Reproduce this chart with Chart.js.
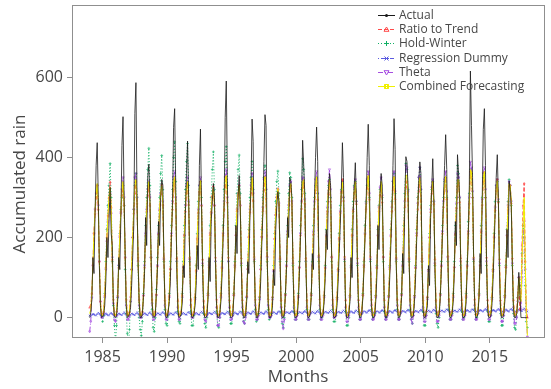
<!DOCTYPE html>
<html>
<head>
<meta charset="utf-8">
<title>Accumulated rain</title>
<script src="https://cdn.jsdelivr.net/npm/chart.js@4/dist/chart.umd.min.js"></script>
<style>
	body { margin: 0; background: #fff; }
	canvas { display: block; }
</style>
</head>
<body>
<canvas id="rain" width="551" height="389"></canvas>
<script>
// Monthly series, Jan 1984 .. Dec 2017, one row per year
const startYear = 1984;
const yearTicks = [1985, 1990, 1995, 2000, 2005, 2010, 2015];
const rainTicks = [0, 200, 400, 600];

const actual = [
	0, 12, 45, 150, 110, 260, 380, 437, 300, 130, 30, 0,
	2, 8, 30, 90, 200, 150, 240, 325, 210, 180, 40, 3,
	0, 5, 40, 150, 120, 250, 430, 502, 300, 160, 30, 0,
	3, 10, 25, 80, 150, 230, 510, 587, 300, 140, 40, 0,
	0, 10, 50, 110, 250, 180, 350, 383, 300, 170, 40, 2,
	0, 5, 60, 120, 240, 180, 300, 345, 330, 150, 30, 0,
	0, 15, 40, 90, 200, 280, 475, 522, 330, 120, 20, 0,
	2, 8, 35, 130, 100, 260, 360, 441, 300, 150, 25, 0,
	0, 10, 30, 80, 180, 120, 380, 471, 280, 120, 20, 0,
	0, 5, 45, 150, 90, 240, 290, 335, 300, 140, 30, 0,
	0, 10, 40, 100, 190, 280, 500, 591, 350, 150, 20, 0,
	0, 5, 50, 120, 230, 160, 300, 355, 280, 130, 25, 0,
	0, 8, 40, 140, 110, 250, 330, 496, 440, 150, 30, 0,
	0, 12, 35, 90, 180, 260, 390, 507, 480, 160, 35, 0,
	0, 5, 30, 120, 80, 220, 280, 315, 290, 150, 30, 0,
	0, 10, 60, 120, 250, 200, 350, 340, 300, 130, 20, 0,
	0, 5, 40, 110, 200, 300, 443, 380, 310, 140, 25, 0,
	0, 10, 50, 160, 120, 300, 400, 476, 390, 160, 30, 0,
	0, 8, 40, 100, 220, 170, 320, 360, 330, 150, 30, 0,
	0, 5, 30, 90, 160, 230, 320, 437, 350, 150, 20, 0,
	0, 10, 40, 150, 100, 260, 330, 387, 300, 120, 25, 0,
	0, 12, 50, 120, 200, 280, 400, 483, 380, 150, 30, 0,
	0, 5, 40, 100, 230, 170, 310, 360, 330, 160, 20, 0,
	0, 10, 40, 100, 180, 260, 380, 497, 420, 140, 30, 0,
	0, 10, 50, 160, 110, 290, 402, 390, 330, 150, 30, 0,
	0, 5, 40, 100, 190, 270, 340, 389, 360, 140, 20, 0,
	0, 15, 30, 130, 80, 250, 320, 397, 300, 120, 25, 0,
	0, 10, 50, 120, 210, 300, 380, 457, 370, 160, 30, 0,
	0, 10, 40, 110, 240, 180, 407, 360, 300, 130, 25, 0,
	0, 5, 40, 120, 200, 330, 616, 480, 350, 150, 30, 0,
	0, 10, 50, 160, 110, 300, 470, 522, 380, 140, 25, 0,
	0, 5, 30, 90, 170, 260, 350, 407, 300, 120, 20, 0,
	0, 10, 40, 110, 220, 150, 341, 320, 280, 130, 25, 0,
	0, 10, 40, 113, 60, 0, 0, 0, 0, 0, 0, 0,
];

const ratioToTrend = [
	25, 30, 60, 130, 210, 260, 300, 330, 270, 140, 40, 10,
	8, 15, 55, 125, 200, 255, 300, 339, 275, 145, 45, 8,
	6, 15, 55, 125, 205, 265, 305, 330, 280, 150, 45, 8,
	6, 14, 52, 120, 200, 260, 310, 340, 285, 150, 45, 8,
	7, 15, 55, 125, 205, 265, 305, 330, 280, 150, 45, 8,
	6, 15, 58, 128, 208, 268, 308, 332, 282, 150, 44, 7,
	7, 16, 55, 122, 205, 270, 320, 345, 285, 148, 42, 7,
	6, 15, 55, 125, 205, 265, 310, 335, 282, 150, 45, 8,
	6, 14, 50, 118, 198, 262, 315, 340, 280, 145, 42, 7,
	7, 15, 56, 126, 206, 264, 304, 328, 280, 150, 45, 8,
	6, 15, 55, 124, 205, 270, 325, 350, 288, 150, 43, 7,
	7, 16, 57, 127, 206, 266, 306, 330, 280, 148, 44, 8,
	6, 15, 54, 122, 202, 264, 312, 345, 292, 152, 45, 8,
	6, 15, 53, 121, 203, 266, 318, 350, 298, 154, 46, 8,
	6, 14, 52, 120, 198, 258, 300, 322, 280, 150, 44, 7,
	7, 16, 58, 128, 208, 270, 315, 330, 282, 148, 42, 7,
	6, 15, 55, 125, 206, 272, 325, 338, 285, 148, 43, 7,
	7, 16, 57, 127, 208, 272, 318, 348, 295, 155, 46, 8,
	6, 15, 55, 123, 203, 265, 308, 335, 290, 152, 45, 8,
	6, 14, 52, 120, 200, 262, 312, 345, 292, 152, 44, 7,
	7, 15, 55, 125, 205, 266, 310, 336, 284, 148, 44, 8,
	7, 16, 57, 127, 208, 272, 322, 352, 295, 152, 45, 8,
	6, 15, 55, 124, 205, 266, 306, 332, 288, 152, 44, 7,
	6, 15, 54, 122, 203, 266, 318, 350, 296, 150, 45, 8,
	7, 16, 58, 128, 208, 276, 326, 340, 292, 150, 45, 8,
	6, 15, 55, 124, 205, 270, 315, 340, 292, 148, 43, 7,
	7, 16, 52, 120, 200, 264, 310, 338, 284, 146, 43, 7,
	7, 16, 58, 128, 210, 276, 320, 350, 296, 154, 46, 8,
	7, 15, 55, 126, 207, 274, 328, 338, 288, 148, 44, 8,
	6, 15, 55, 128, 210, 285, 365, 360, 300, 150, 45, 8,
	7, 16, 58, 130, 212, 282, 340, 362, 300, 150, 44, 8,
	6, 14, 52, 120, 200, 268, 318, 345, 288, 146, 43, 7,
	7, 15, 55, 126, 205, 270, 330, 330, 286, 148, 44, 8,
	8, 15, 50, 100, 20, 60, 180, 280, 335, 140, 20, 0,
];

const holtWinter = [
	null, null, null, null, null, null, null, null, null, null, null, null,
	-10, 5, 60, 140, 220, 280, 330, 385, 300, 140, 30, -20,
	-60, -20, 50, 130, 210, 270, 300, 330, 280, 120, 10, -40,
	-70, -30, 40, 120, 200, 270, 330, 360, 300, 130, 0, -30,
	-45, -10, 60, 140, 230, 300, 370, 423, 330, 150, 20, -25,
	-35, 0, 70, 150, 230, 300, 360, 405, 320, 140, 20, -15,
	-20, 5, 60, 140, 230, 320, 400, 439, 340, 140, 15, -10,
	-15, 10, 60, 140, 230, 320, 390, 435, 330, 140, 15, -20,
	-20, 5, 50, 130, 210, 290, 330, 340, 300, 130, 10, -15,
	-25, 0, 60, 140, 230, 300, 370, 414, 320, 140, 15, -20,
	-25, 0, 60, 140, 230, 320, 390, 427, 330, 140, 15, -15,
	-15, 5, 60, 140, 230, 310, 370, 406, 310, 130, 15, -10,
	-15, 5, 50, 130, 220, 300, 350, 390, 320, 140, 20, -10,
	-5, 10, 50, 130, 220, 300, 350, 380, 320, 140, 20, -5,
	0, 10, 50, 130, 210, 290, 340, 366, 310, 140, 15, -15,
	-25, 0, 60, 140, 230, 310, 362, 350, 300, 130, 15, -5,
	-5, 10, 60, 140, 230, 320, 397, 370, 310, 140, 20, -5,
	-5, 10, 60, 140, 230, 300, 330, 350, 310, 140, 20, -5,
	0, 10, 55, 130, 220, 290, 330, 345, 300, 140, 20, -10,
	-10, 5, 50, 120, 210, 280, 320, 340, 300, 140, 15, -20,
	-20, 0, 55, 130, 220, 290, 330, 340, 290, 130, 15, -5,
	-5, 10, 60, 140, 230, 290, 330, 340, 300, 140, 20, -5,
	0, 10, 55, 130, 220, 280, 320, 330, 300, 140, 15, -5,
	0, 10, 55, 130, 220, 290, 340, 360, 310, 140, 20, -5,
	-5, 10, 60, 140, 230, 310, 385, 370, 320, 140, 20, -5,
	-15, 5, 55, 130, 220, 300, 350, 375, 320, 140, 15, -20,
	-20, 5, 50, 120, 210, 280, 320, 340, 290, 130, 10, -15,
	-25, 0, 60, 140, 230, 300, 340, 350, 300, 140, 20, -5,
	-5, 10, 60, 140, 230, 300, 380, 360, 300, 130, 15, -5,
	0, 10, 60, 140, 240, 310, 370, 360, 300, 140, 20, -5,
	0, 10, 60, 140, 230, 300, 350, 360, 300, 130, 15, -10,
	-10, 5, 50, 120, 210, 290, 330, 340, 290, 130, 10, -20,
	-20, 5, 55, 130, 220, 290, 345, 330, 280, 130, 10, -25,
	-30, 0, 50, 100, 60, 80, 160, 230, 200, 80, -10, -25,
];

const regressionDummy = [
	5, 3, 6, 9, 8, 6, 5, 9, 12, 10, 6, 4,
	6, 4, 7, 10, 8, 6, 5, 10, 12, 9, 6, 4,
	6, 4, 7, 10, 9, 7, 6, 10, 13, 10, 7, 5,
	6, 4, 7, 10, 9, 7, 6, 10, 13, 10, 7, 5,
	7, 5, 8, 11, 9, 7, 6, 11, 13, 10, 7, 5,
	7, 5, 8, 11, 10, 8, 7, 11, 14, 11, 8, 6,
	7, 5, 8, 11, 10, 8, 7, 11, 14, 11, 8, 6,
	8, 6, 9, 12, 10, 8, 7, 12, 14, 11, 8, 6,
	8, 6, 9, 12, 10, 8, 7, 12, 15, 12, 8, 6,
	8, 6, 9, 12, 11, 9, 8, 12, 15, 12, 9, 7,
	8, 6, 9, 12, 11, 9, 8, 12, 15, 12, 9, 7,
	9, 7, 10, 13, 11, 9, 8, 13, 15, 12, 9, 7,
	9, 7, 10, 13, 12, 10, 9, 13, 16, 13, 10, 8,
	9, 7, 10, 13, 12, 10, 9, 13, 16, 13, 10, 8,
	10, 8, 11, 14, 12, 10, 9, 14, 16, 13, 10, 8,
	10, 8, 11, 14, 13, 11, 10, 14, 17, 14, 11, 9,
	10, 8, 11, 14, 13, 11, 10, 14, 17, 14, 11, 9,
	11, 9, 12, 15, 13, 11, 10, 15, 17, 14, 11, 9,
	11, 9, 12, 15, 14, 12, 11, 15, 18, 15, 12, 10,
	11, 9, 12, 15, 14, 12, 11, 15, 18, 15, 12, 10,
	12, 10, 13, 16, 14, 12, 11, 16, 18, 15, 12, 10,
	12, 10, 13, 16, 15, 13, 12, 16, 19, 16, 13, 11,
	12, 10, 13, 16, 15, 13, 12, 16, 19, 16, 13, 11,
	13, 11, 14, 17, 15, 13, 12, 17, 19, 16, 13, 11,
	13, 11, 14, 17, 16, 14, 13, 17, 20, 17, 14, 12,
	13, 11, 14, 17, 16, 14, 13, 17, 20, 17, 14, 12,
	14, 12, 15, 18, 16, 14, 13, 18, 20, 17, 14, 12,
	14, 12, 15, 18, 17, 15, 14, 18, 21, 18, 15, 13,
	14, 12, 15, 18, 17, 15, 14, 18, 21, 18, 15, 13,
	15, 13, 16, 19, 17, 15, 14, 19, 21, 18, 15, 13,
	15, 13, 16, 19, 18, 16, 15, 19, 22, 19, 16, 14,
	15, 13, 16, 19, 18, 16, 15, 19, 22, 19, 16, 14,
	16, 14, 17, 20, 18, 16, 15, 20, 22, 19, 16, 14,
	16, 14, 17, 20, 19, 17, 16, 20, 23, 20, 17, 15,
];

const theta = [
	-35, -10, 50, 130, 210, 270, 310, 330, 280, 140, 40, 0,
	0, 10, 50, 120, 190, 240, 280, 310, 260, 150, 35, -5,
	-10, 5, 50, 130, 200, 260, 320, 350, 300, 150, 30, -5,
	-5, 5, 40, 120, 200, 270, 350, 360, 300, 140, 30, 0,
	0, 10, 55, 130, 210, 270, 320, 340, 300, 150, 35, -5,
	-5, 5, 55, 130, 210, 270, 310, 330, 290, 145, 30, -5,
	-5, 10, 50, 120, 210, 290, 350, 365, 300, 140, 25, -5,
	-5, 10, 50, 125, 205, 280, 330, 350, 290, 145, 30, 0,
	0, 10, 45, 115, 195, 270, 330, 350, 280, 135, 25, -5,
	-10, 5, 55, 130, 210, 260, 300, 320, 280, 140, 25, -20,
	-20, 0, 50, 125, 210, 290, 350, 370, 300, 140, 25, -5,
	-5, 5, 55, 130, 205, 270, 310, 330, 280, 135, 25, -10,
	-15, 0, 50, 120, 200, 270, 330, 360, 310, 145, 30, -5,
	-5, 5, 45, 120, 200, 275, 345, 365, 320, 150, 30, 0,
	0, 5, 45, 115, 195, 255, 300, 320, 285, 145, 25, -10,
	-28, -5, 55, 130, 215, 280, 330, 340, 290, 135, 25, -5,
	-5, 5, 50, 125, 210, 290, 350, 345, 295, 140, 25, -5,
	-5, 10, 55, 130, 215, 290, 345, 365, 310, 150, 30, -5,
	-5, 5, 50, 125, 205, 275, 340, 370, 320, 150, 30, 0,
	0, 5, 45, 115, 195, 265, 315, 335, 300, 145, 25, -10,
	-10, 5, 50, 125, 205, 270, 325, 345, 290, 135, 25, -5,
	-5, 10, 55, 130, 210, 285, 345, 365, 310, 145, 30, -5,
	-5, 5, 50, 125, 205, 275, 325, 350, 305, 150, 25, -5,
	-5, 5, 50, 125, 205, 275, 340, 365, 315, 145, 30, -5,
	-5, 10, 55, 130, 215, 290, 380, 375, 315, 145, 30, -5,
	-15, 5, 50, 125, 210, 285, 350, 375, 320, 140, 25, -10,
	-10, 5, 45, 115, 200, 270, 325, 345, 290, 135, 25, -10,
	-10, 5, 55, 130, 215, 290, 345, 365, 315, 150, 30, -5,
	-5, 5, 50, 125, 210, 285, 360, 350, 300, 140, 25, -5,
	-5, 5, 50, 130, 215, 300, 389, 375, 315, 145, 30, -5,
	-5, 10, 55, 130, 215, 295, 360, 375, 320, 140, 25, -5,
	-5, 5, 45, 115, 200, 275, 330, 345, 295, 135, 20, -10,
	-10, 5, 50, 125, 205, 280, 340, 330, 290, 135, 25, -15,
	-15, 0, 40, 100, 70, 20, 100, 200, 240, 120, 0, -48,
];

const combined = [
	10, 20, 60, 130, 210, 270, 310, 335, 280, 140, 40, 5,
	5, 15, 55, 125, 200, 255, 300, 325, 270, 145, 40, 5,
	5, 15, 55, 130, 205, 265, 315, 340, 285, 150, 40, 5,
	5, 15, 50, 125, 205, 270, 330, 345, 290, 145, 40, 5,
	5, 15, 55, 130, 210, 270, 320, 340, 290, 150, 40, 5,
	5, 15, 58, 130, 210, 270, 312, 332, 285, 148, 38, 5,
	5, 16, 55, 125, 210, 285, 340, 352, 295, 145, 35, 5,
	5, 15, 55, 126, 208, 275, 325, 340, 288, 148, 38, 5,
	5, 14, 50, 120, 200, 268, 325, 342, 282, 140, 35, 5,
	5, 15, 56, 128, 208, 265, 305, 325, 282, 145, 38, 5,
	5, 15, 55, 126, 210, 285, 345, 355, 295, 145, 36, 5,
	5, 16, 57, 128, 206, 270, 310, 330, 280, 142, 36, 5,
	5, 15, 52, 122, 202, 268, 325, 350, 300, 148, 38, 5,
	5, 15, 50, 122, 203, 270, 335, 352, 305, 150, 40, 5,
	5, 14, 50, 118, 198, 258, 302, 322, 284, 148, 36, 5,
	5, 16, 58, 130, 210, 275, 325, 335, 288, 142, 35, 5,
	5, 15, 55, 126, 208, 282, 340, 345, 292, 144, 35, 5,
	5, 16, 56, 128, 210, 282, 335, 352, 302, 152, 40, 5,
	5, 15, 53, 124, 205, 270, 325, 345, 300, 150, 38, 5,
	5, 14, 50, 118, 198, 262, 315, 338, 298, 148, 35, 5,
	5, 15, 54, 126, 206, 270, 320, 340, 288, 142, 36, 5,
	5, 16, 57, 128, 209, 278, 335, 355, 302, 150, 38, 5,
	5, 15, 54, 125, 205, 270, 315, 340, 298, 152, 36, 5,
	5, 15, 53, 124, 204, 270, 330, 352, 305, 148, 38, 5,
	5, 16, 58, 130, 210, 285, 355, 355, 305, 148, 38, 5,
	5, 15, 53, 125, 208, 278, 332, 350, 306, 145, 35, 5,
	5, 15, 50, 118, 200, 266, 318, 340, 288, 140, 35, 5,
	5, 16, 57, 129, 212, 284, 335, 352, 305, 152, 40, 5,
	5, 15, 54, 126, 208, 280, 345, 345, 294, 144, 36, 5,
	5, 15, 54, 128, 212, 292, 370, 365, 305, 148, 38, 5,
	5, 16, 58, 130, 212, 290, 350, 365, 308, 145, 36, 5,
	5, 14, 50, 118, 200, 272, 325, 342, 292, 140, 34, 5,
	5, 15, 54, 126, 205, 275, 335, 330, 288, 142, 36, 5,
	5, 12, 40, 100, 60, 40, 140, 240, 300, 130, 10, -45,
];

const months = [];
for (let i = 0; i < actual.length; i++) months.push(startYear + i / 12);

const toPoints = (values) => values.map((v, i) => ({ x: months[i], y: v }));

const textColor = "#474747";
const fontFamily = "'Open Sans', Lato, sans-serif";

const series = (label, values, color, dash, marker, point, order, width = 1) => ({
	label,
	data: toPoints(values),
	borderColor: color,
	backgroundColor: color,
	borderWidth: width,
	borderDash: dash,
	pointStyle: point.style,
	pointRadius: point.radius,
	pointRotation: point.rotation || 0,
	pointBorderWidth: 0.6,
	pointBackgroundColor: "rgba(0,0,0,0)",
	tension: 0,
	order,
	marker,
});

// lower order is drawn later, so the observed series sits on top
const data = {
	datasets: [
		series("Actual", actual, "#1a1a1a", [], "dot", { style: "circle", radius: 0 }, 0, 0.8),
		series("Ratio to Trend", ratioToTrend, "#ff4a4a", [4, 2], "triangle", { style: "triangle", radius: 1.1 }, 2),
		series("Hold-Winter", holtWinter, "#12b065", [1, 2], "plus", { style: "cross", radius: 1.4 }, 4),
		series("Regression Dummy", regressionDummy, "#5a5ae0", [1, 2, 4, 2], "star", { style: "crossRot", radius: 1.2 }, 5),
		series("Theta", theta, "#a64ee0", [5, 2, 1, 2], "triangleDown", { style: "triangle", radius: 1.3, rotation: 180 }, 3),
		series("Combined Forecasting", combined, "#f0f000", [], "boxX", { style: "rect", radius: 0 }, 1),
	],
};

// box round the plot region
const frame = {
	id: "frame",
	afterDatasetsDraw(chart) {
		const { ctx, chartArea: a } = chart;
		ctx.save();
		ctx.strokeStyle = "#8f8f8f";
		ctx.lineWidth = 1;
		ctx.strokeRect(Math.round(a.left) + 0.5, Math.round(a.top) + 0.5,
			Math.round(a.right - a.left) - 1, Math.round(a.bottom - a.top) - 1);
		ctx.restore();
	},
};

// axis titles, placed by hand
const axisTitles = {
	id: "axisTitles",
	afterDraw(chart) {
		const { ctx } = chart;
		ctx.save();
		ctx.font = "17px " + fontFamily;
		ctx.fillStyle = textColor;
		ctx.textAlign = "center";
		ctx.textBaseline = "middle";
		ctx.fillText("Months", 298, 377);
		ctx.translate(20, 184);
		ctx.rotate(-Math.PI / 2);
		ctx.fillText("Accumulated rain", 0, 0);
		ctx.restore();
	},
};

function drawMarker(ctx, kind, x, y) {
	ctx.beginPath();
	switch (kind) {
		case "dot":
			ctx.arc(x, y, 1.5, 0, Math.PI * 2);
			ctx.fill();
			return;
		case "triangle":
			ctx.moveTo(x, y - 2.5);
			ctx.lineTo(x + 2.5, y + 1.8);
			ctx.lineTo(x - 2.5, y + 1.8);
			ctx.closePath();
			break;
		case "triangleDown":
			ctx.moveTo(x, y + 2.5);
			ctx.lineTo(x + 2.5, y - 1.8);
			ctx.lineTo(x - 2.5, y - 1.8);
			ctx.closePath();
			break;
		case "plus":
			ctx.moveTo(x - 2.5, y);
			ctx.lineTo(x + 2.5, y);
			ctx.moveTo(x, y - 2.5);
			ctx.lineTo(x, y + 2.5);
			break;
		case "star":
			ctx.moveTo(x - 2.5, y);
			ctx.lineTo(x + 2.5, y);
			ctx.moveTo(x - 2, y - 2);
			ctx.lineTo(x + 2, y + 2);
			ctx.moveTo(x - 2, y + 2);
			ctx.lineTo(x + 2, y - 2);
			break;
		case "boxX":
			ctx.rect(x - 2, y - 2, 4, 4);
			ctx.moveTo(x - 2, y - 2);
			ctx.lineTo(x + 2, y + 2);
			ctx.moveTo(x - 2, y + 2);
			ctx.lineTo(x + 2, y - 2);
			break;
	}
	ctx.stroke();
}

// legend in the top right corner, no box
const cornerLegend = {
	id: "cornerLegend",
	afterDraw(chart) {
		const { ctx } = chart;
		const x0 = 378, x1 = 395, textX = 399, top = 15, step = 14.2;
		ctx.save();
		ctx.font = "12px " + fontFamily;
		ctx.textBaseline = "middle";
		chart.data.datasets.forEach((ds, i) => {
			const y = Math.round(top + i * step) + 0.5;
			ctx.strokeStyle = ds.borderColor;
			ctx.fillStyle = ds.borderColor;
			ctx.lineWidth = 1;
			ctx.setLineDash(ds.borderDash);
			ctx.beginPath();
			ctx.moveTo(x0, y);
			ctx.lineTo(x1, y);
			ctx.stroke();
			ctx.setLineDash([]);
			drawMarker(ctx, ds.marker, (x0 + x1) / 2, y);
			ctx.fillStyle = textColor;
			ctx.fillText(ds.label, textX, y);
		});
		ctx.restore();
	},
};

const noPadding = (scale) => {
	scale.paddingTop = 0;
	scale.paddingBottom = 0;
	scale.paddingLeft = 0;
	scale.paddingRight = 0;
};

const options = {
	responsive: false,
	animation: false,
	events: [],
	devicePixelRatio: 1,
	layout: {
		padding: { top: 5, right: 6, left: 0, bottom: 0 },
	},
	plugins: {
		legend: { display: false },
		tooltip: { enabled: false },
	},
	scales: {
		x: {
			type: "linear",
			min: 1982.63,
			max: 2019.28,
			afterBuildTicks: (scale) => {
				scale.ticks = yearTicks.map((v) => ({ value: v }));
			},
			afterFit: (scale) => {
				scale.height = 51;
				noPadding(scale);
			},
			border: { display: false },
			grid: {
				drawOnChartArea: false,
				drawTicks: true,
				tickLength: 5,
				tickColor: "#8f8f8f",
			},
			ticks: {
				autoSkip: false,
				maxRotation: 0,
				padding: 5,
				color: textColor,
				font: { family: fontFamily, size: 16 },
				callback: (v) => String(v),
			},
		},
		y: {
			min: -51,
			max: 781,
			afterBuildTicks: (scale) => {
				scale.ticks = rainTicks.map((v) => ({ value: v }));
			},
			afterFit: (scale) => {
				scale.width = 72;
				noPadding(scale);
			},
			border: { display: false },
			grid: {
				drawOnChartArea: false,
				drawTicks: true,
				tickLength: 5,
				tickColor: "#8f8f8f",
			},
			ticks: {
				padding: 4,
				color: textColor,
				font: { family: fontFamily, size: 16 },
				callback: (v) => String(v),
			},
		},
	},
};

const config = {
	type: "line",
	data,
	options,
	plugins: [frame, axisTitles, cornerLegend],
};

new Chart(document.querySelector("#rain"), config);
</script>
</body>
</html>
